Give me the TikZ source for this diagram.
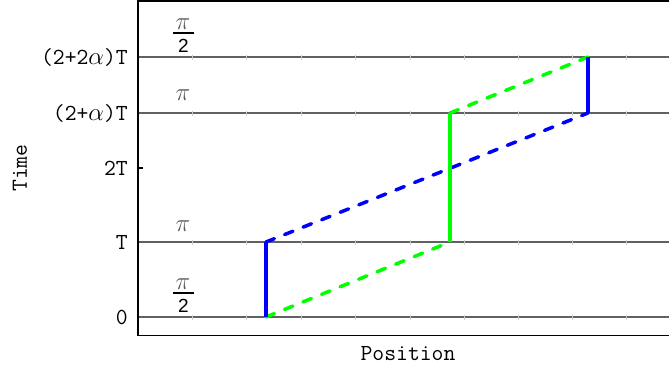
\documentclass[tikz,border=0pt]{standalone}
\usepackage{fontspec}
\newfontfamily\sansf{Liberation Sans}
\begin{document}
\begin{tikzpicture}[x=1pt,y=-1pt,
  frame/.style={line width=1.4pt,black},
  level/.style={line width=2pt,color=black!62},
  tickm/.style={line width=0.4pt,color=black!20},
  bluev/.style={line width=3.5pt,color=blue},
  greenv/.style={line width=3.5pt,color=green},
  bluedash/.style={line width=3.5pt,color=blue,dash pattern=on 9pt off 11pt,line cap=round},
  greendash/.style={line width=3.5pt,color=green,dash pattern=on 9pt off 11pt,line cap=round},
  ylab/.style={anchor=east,inner sep=0pt,font=\ttfamily\fontsize{23}{24}\selectfont},
  pinode/.style={inner sep=0pt,text=black!65,font=\fontsize{26}{27}\selectfont},
  twonode/.style={inner sep=0pt,font=\sansf\fontsize{19}{20}\selectfont},
  fracbar/.style={line width=1.3pt,black},
  axlab/.style={inner sep=0pt,font=\ttfamily\fontsize{23}{24}\selectfont}]
\useasboundingbox (0,0) rectangle (669,372);
% levels
\foreach \yy in {57,113,242,317}{
  \draw[level] (138,\yy) -- (669,\yy);
  \foreach \xx in {192,246,301,355,410,464,518,572,626}{
    \draw[tickm] (\xx,\yy-2.5) -- (\xx,\yy+2.5);
  }
}
% frame
\draw[frame] (669,0.8) -- (138,0.8) -- (138,335.3) -- (669,335.3);
\draw[frame] (138,168) -- (143,168);
% y labels
\node[ylab] (l4) at (128,57) {(2+2$\alpha$)T};
\node[ylab] (l3) at (128,113) {(2+$\alpha$)T};
\node[ylab] (l2) at (128,168) {2T};
\node[ylab] (l1) at (128,242) {T};
\node[ylab] (l0) at (128,317) {0};
% phase labels
\node[pinode] (p4n) at (183,24) {$\pi$};
\draw[fracbar] (173,33) -- (194,33);
\node[twonode] (p4d) at (183.5,46) {2};
\node[pinode] (p3) at (183,95) {$\pi$};
\node[pinode] (p1) at (183,226) {$\pi$};
\node[pinode] (p0n) at (183,284) {$\pi$};
\draw[fracbar] (173,293) -- (194,293);
\node[twonode] (p0d) at (183.5,306) {2};
% axis labels
\node[axlab,rotate=90] (time) at (20,168) {Time};
\node[axlab] (pos) at (408,354) {Position};
% path coordinates
\coordinate (a0) at (266,317);
\coordinate (a1) at (266,242);
\coordinate (b1) at (450,242);
\coordinate (b3) at (450,113);
\coordinate (c3) at (588,113);
\coordinate (c4) at (588,57);
% trajectories
\draw[greendash] (a0) -- (b1);
\draw[bluedash] (a1) -- (c3);
\draw[greendash] (b3) -- (c4);
\draw[greenv] (b1) -- (b3);
\draw[bluev] (a0) -- (a1);
\draw[bluev] (c3) -- (c4);
\end{tikzpicture}
\end{document}
